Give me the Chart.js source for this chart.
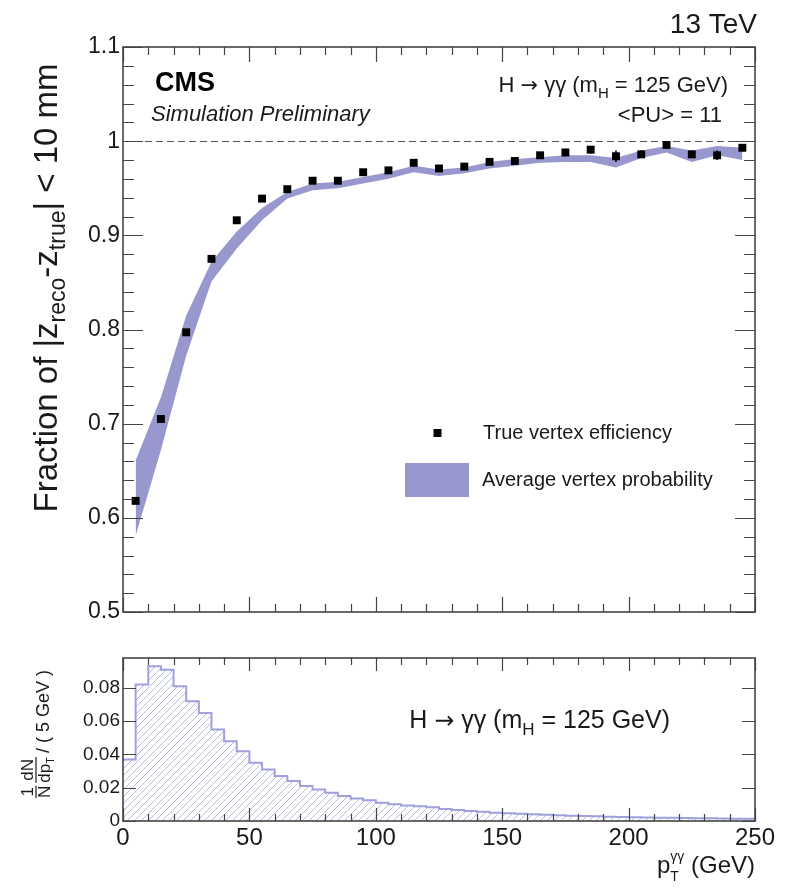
<!DOCTYPE html>
<html>
<head>
<meta charset="utf-8">
<title>Vertex efficiency vs pT</title>
<script src="https://cdn.jsdelivr.net/npm/chart.js@4.4.1/dist/chart.umd.min.js"></script>
<style>
  html, body { margin: 0; padding: 0; background: #fff; }
  #wrap { position: relative; width: 785px; height: 888px; overflow: hidden; }
  #wrap canvas { position: absolute; left: 0; }
  #effChart { top: 0; }
  #histChart { top: 640px; }
</style>
</head>
<body>
<div id="wrap">
  <canvas id="effChart" width="785" height="640" style="width:785px;height:640px"></canvas>
  <canvas id="histChart" width="785" height="248" style="width:785px;height:248px"></canvas>
</div>
<script>
// pT bin centres (GeV) of the efficiency plot
const ptCenters = [5, 15, 25, 35, 45, 55, 65, 75, 85, 95, 105, 115, 125,
                   135, 145, 155, 165, 175, 185, 195, 205, 215, 225, 235, 245];
// true vertex efficiency and its error
const trueEff = [0.618, 0.705, 0.797, 0.875, 0.916, 0.939, 0.949, 0.958, 0.958, 0.967, 0.969, 0.977, 0.971,
                 0.973, 0.978, 0.979, 0.985, 0.988, 0.991, 0.984, 0.986, 0.996, 0.986, 0.985, 0.993];
const effErr = [0.003, 0.003, 0.003, 0.003, 0.002, 0.002, 0.002, 0.002, 0.002, 0.002, 0.002, 0.002, 0.002,
                0.002, 0.003, 0.003, 0.003, 0.004, 0.004, 0.006, 0.004, 0.003, 0.004, 0.005, 0.004];
// average vertex probability band
const probHigh = [0.661, 0.728, 0.815, 0.872, 0.904, 0.929, 0.946, 0.955, 0.957, 0.962, 0.967, 0.974, 0.970,
                  0.972, 0.978, 0.981, 0.983, 0.985, 0.985, 0.982, 0.990, 0.995, 0.990, 0.995, 0.993];
const probLow = [0.581, 0.672, 0.772, 0.851, 0.886, 0.916, 0.939, 0.948, 0.950, 0.955, 0.960, 0.967, 0.963,
                 0.966, 0.971, 0.974, 0.977, 0.978, 0.978, 0.972, 0.982, 0.988, 0.978, 0.985, 0.980];

// pT spectrum, 5 GeV bins
const histEdges = [0, 5, 10, 15, 20, 25, 30, 35, 40, 45, 50, 55, 60, 65, 70, 75, 80, 85, 90, 95,
                   100, 105, 110, 115, 120, 125, 130, 135, 140, 145, 150, 155, 160, 165, 170, 175, 180, 185, 190, 195,
                   200, 205, 210, 215, 220, 225, 230, 235, 240, 245, 250];
const histVals = [0.037, 0.082, 0.093, 0.091, 0.081, 0.072, 0.065, 0.055, 0.048, 0.042,
                  0.035, 0.031, 0.027, 0.024, 0.021, 0.019, 0.017, 0.015, 0.0135, 0.0125,
                  0.011, 0.010, 0.0093, 0.0088, 0.0082, 0.0072, 0.0066, 0.0060, 0.0055, 0.0050,
                  0.0046, 0.0043, 0.0040, 0.0037, 0.0034, 0.0032, 0.0030, 0.0028, 0.0026, 0.0024,
                  0.0023, 0.0021, 0.0020, 0.0019, 0.0018, 0.0017, 0.0016, 0.0015, 0.0014, 0.0013];

// tick labels
const effYTicks = [0.5, 0.6, 0.7, 0.8, 0.9, 1.0, 1.1];
const histYTicks = [0, 0.02, 0.04, 0.06, 0.08];
const ptTicks = [0, 50, 100, 150, 200, 250];

const FONT = '"Liberation Sans", Arial, Helvetica, sans-serif';
const ARROW_FONT = '"DejaVu Sans", sans-serif';
const TEXT = '#1a1a1a';
const AXIS = '#444';
const BAND = 'rgb(153, 152, 206)';
const HIST_LINE = 'rgb(160, 160, 222)';
const HIST_HATCH = 'rgb(185, 185, 230)';

Chart.defaults.font.family = FONT;
Chart.defaults.color = TEXT;

function f(size, style) { return (style || '') + ' ' + size + 'px ' + FONT; }
function fa(size) { return size + 'px ' + ARROW_FONT; }

function richWidth(ctx, parts) {
  let w = 0;
  for (const p of parts) { ctx.font = p.font; w += ctx.measureText(p.text).width; }
  return w;
}
function drawRich(ctx, parts, x, y) {
  for (const p of parts) {
    ctx.font = p.font;
    ctx.fillText(p.text, x, y + (p.dy || 0));
    x += ctx.measureText(p.text).width;
  }
}

// "H -> yy (m_H = 125 GeV)" pieces
function procParts(size, sub, dy) {
  return [
    {text: 'H ', font: f(size)},
    {text: '\u2192', font: fa(size * 0.95)},
    {text: ' \u03b3\u03b3 (m', font: f(size)},
    {text: 'H', font: f(sub), dy: dy},
    {text: ' = 125 GeV)', font: f(size)}
  ];
}

function steps(min, max, step) {
  const out = [];
  const n = Math.round((max - min) / step);
  for (let i = 0; i <= n; i++) out.push(min + i * step);
  return out;
}

// frame with inward ticks on all four sides
function drawFrame(chart, xt, yt) {
  const {ctx, chartArea: a, scales: {x, y}} = chart;
  ctx.save();
  ctx.strokeStyle = AXIS;
  ctx.lineWidth = 1.2;
  ctx.beginPath();
  for (const [vals, len] of [[xt.minor, xt.minorLen], [xt.major, xt.majorLen]]) {
    for (const v of vals) {
      const px = Math.round(x.getPixelForValue(v)) + 0.5;
      ctx.moveTo(px, a.bottom); ctx.lineTo(px, a.bottom - len);
      ctx.moveTo(px, a.top); ctx.lineTo(px, a.top + len);
    }
  }
  for (const [vals, len] of [[yt.minor, yt.minorLen], [yt.major, yt.majorLen]]) {
    for (const v of vals) {
      const py = Math.round(y.getPixelForValue(v)) + 0.5;
      ctx.moveTo(a.left, py); ctx.lineTo(a.left + len, py);
      ctx.moveTo(a.right, py); ctx.lineTo(a.right - len, py);
    }
  }
  ctx.stroke();
  ctx.lineWidth = 1.6;
  ctx.strokeRect(a.left, a.top, a.right - a.left, a.bottom - a.top);
  ctx.restore();
}

const effDecor = {
  id: 'effDecor',
  beforeDatasetsDraw(chart) {
    const {ctx, chartArea: a, scales: {y}} = chart;
    const y1 = Math.round(y.getPixelForValue(1)) + 0.5;
    ctx.save();
    ctx.strokeStyle = '#555';
    ctx.lineWidth = 1.2;
    ctx.setLineDash([7, 4]);
    ctx.beginPath(); ctx.moveTo(a.left, y1); ctx.lineTo(a.right, y1); ctx.stroke();
    ctx.restore();
  },
  afterDatasetsDraw(chart) {
    const {ctx, scales: {x, y}} = chart;
    ctx.save();
    ctx.strokeStyle = '#000';
    ctx.lineWidth = 1.6;
    ctx.beginPath();
    ptCenters.forEach((pt, i) => {
      const px = x.getPixelForValue(pt);
      ctx.moveTo(px, y.getPixelForValue(trueEff[i] + effErr[i]));
      ctx.lineTo(px, y.getPixelForValue(trueEff[i] - effErr[i]));
    });
    ctx.stroke();
    ctx.restore();
  },
  afterDraw(chart) {
    const ctx = chart.ctx;
    drawFrame(chart,
      {major: steps(0, 250, 50), minor: steps(0, 250, 10), majorLen: 15, minorLen: 8},
      {major: steps(0.5, 1.1, 0.1), minor: steps(0.5, 1.1, 0.02), majorLen: 20, minorLen: 11});

    ctx.save();
    ctx.fillStyle = TEXT;
    ctx.textBaseline = 'alphabetic';

    // energy label
    ctx.font = f(28);
    ctx.textAlign = 'right';
    ctx.fillText('13 TeV', 757, 33);

    ctx.textAlign = 'left';
    ctx.fillStyle = '#000';
    ctx.font = f(27, 'bold');
    ctx.fillText('CMS', 155, 91);
    ctx.fillStyle = TEXT;
    ctx.font = f(22, 'italic');
    ctx.fillText('Simulation Preliminary', 151, 121);

    const proc = procParts(22, 15, 6);
    drawRich(ctx, proc, 728 - richWidth(ctx, proc), 92);
    ctx.font = f(22);
    ctx.textAlign = 'right';
    ctx.fillText('<PU> = 11', 722, 122);
    ctx.textAlign = 'left';

    // legend
    ctx.fillStyle = '#000';
    ctx.fillRect(433.5, 429, 8, 8);
    ctx.fillStyle = BAND;
    ctx.fillRect(405, 463, 64, 34);
    ctx.fillStyle = TEXT;
    ctx.font = f(20);
    ctx.fillText('True vertex efficiency', 483, 439);
    ctx.fillText('Average vertex probability', 482, 486);

    // y title
    const title = [
      {text: 'Fraction of |z', font: f(33)},
      {text: 'reco', font: f(23), dy: 8},
      {text: '-z', font: f(33)},
      {text: 'true', font: f(23), dy: 8},
      {text: '| < 10 mm', font: f(33)}
    ];
    const tw = richWidth(ctx, title);
    ctx.translate(57, 288 + tw / 2);
    ctx.rotate(-Math.PI / 2);
    drawRich(ctx, title, 0, 0);
    ctx.restore();
  }
};

const histDecor = {
  id: 'histDecor',
  afterDraw(chart) {
    const ctx = chart.ctx;
    drawFrame(chart,
      {major: steps(0, 250, 50), minor: steps(0, 250, 10), majorLen: 13, minorLen: 7},
      {major: steps(0, 0.08, 0.02), minor: [], majorLen: 13, minorLen: 0});

    ctx.save();
    ctx.fillStyle = TEXT;
    ctx.textBaseline = 'alphabetic';

    const proc = procParts(25, 17, 7);
    drawRich(ctx, proc, 670 - richWidth(ctx, proc), 88);

    // x title: p_T^yy (GeV)
    ctx.font = f(24);
    const rest = ' (GeV)';
    const wRest = ctx.measureText(rest).width;
    ctx.font = f(14);
    const wSup = ctx.measureText('\u03b3\u03b3').width;
    ctx.font = f(24);
    const wP = ctx.measureText('p').width;
    let xs = 755 - wRest - wSup - wP;
    const base = 233;
    ctx.fillText('p', xs, base);
    xs += wP;
    ctx.font = f(14);
    ctx.fillText('\u03b3\u03b3', xs, base - 12);
    ctx.fillText('T', xs, base + 8);
    xs += wSup;
    ctx.font = f(24);
    ctx.fillText(rest, xs, base);

    // y title: 1/N dN/dpT / (5 GeV)
    ctx.translate(36, 158);
    ctx.rotate(-Math.PI / 2);
    ctx.strokeStyle = TEXT;
    ctx.lineWidth = 1.2;
    ctx.textAlign = 'center';
    ctx.font = f(17);
    const wN = ctx.measureText('N').width;
    ctx.fillText('1', wN / 2, -3);
    ctx.fillText('N', wN / 2, 14);
    ctx.beginPath(); ctx.moveTo(0, 0); ctx.lineTo(wN, 0); ctx.stroke();
    let u = wN + 3;
    const wDp = ctx.measureText('dp').width;
    ctx.font = f(11);
    const wT = ctx.measureText('T').width;
    const wFrac = wDp + wT;
    ctx.font = f(17);
    ctx.fillText('dN', u + wFrac / 2, -3);
    ctx.textAlign = 'left';
    ctx.fillText('dp', u, 14);
    ctx.font = f(11);
    ctx.fillText('T', u + wDp, 18);
    ctx.beginPath(); ctx.moveTo(u, 0); ctx.lineTo(u + wFrac, 0); ctx.stroke();
    u += wFrac + 4;
    ctx.font = f(18);
    ctx.fillText('/ ( 5 GeV )', u, 13);
    ctx.restore();
  }
};

function makeHatch() {
  const c = document.createElement('canvas');
  c.width = 7; c.height = 7;
  const g = c.getContext('2d');
  g.strokeStyle = HIST_HATCH;
  g.lineWidth = 1;
  g.beginPath();
  g.moveTo(-1, 8); g.lineTo(8, -1);
  g.moveTo(-1, 1); g.lineTo(1, -1);
  g.moveTo(6, 8); g.lineTo(8, 6);
  g.stroke();
  return g.createPattern(c, 'repeat');
}

document.addEventListener('DOMContentLoaded', function() {
  const effCtx = document.getElementById('effChart').getContext('2d');
  new Chart(effCtx, {
    type: 'line',
    data: {
      datasets: [{
        label: 'band high',
        data: ptCenters.map((pt, i) => ({x: pt, y: probHigh[i]})),
        borderWidth: 0,
        pointRadius: 0,
        fill: false,
        order: 2
      }, {
        label: 'Average vertex probability',
        data: ptCenters.map((pt, i) => ({x: pt, y: probLow[i]})),
        borderWidth: 0,
        pointRadius: 0,
        backgroundColor: BAND,
        fill: '-1',
        order: 2
      }, {
        label: 'True vertex efficiency',
        data: ptCenters.map((pt, i) => ({x: pt, y: trueEff[i]})),
        showLine: false,
        pointStyle: 'rect',
        pointRadius: 5.6,
        pointBorderWidth: 0,
        pointBackgroundColor: '#000',
        order: 1
      }]
    },
    options: {
      responsive: false,
      animation: false,
      devicePixelRatio: 1,
      layout: { padding: { left: 0, top: 47, right: 30, bottom: 28 } },
      plugins: { legend: { display: false }, tooltip: { enabled: false } },
      scales: {
        x: { type: 'linear', min: 0, max: 250, display: false },
        y: {
          type: 'linear', min: 0.5, max: 1.1,
          grid: { display: false, drawTicks: false },
          border: { display: false },
          afterBuildTicks: s => { s.ticks = effYTicks.map(v => ({value: v})); },
          afterFit: s => { s.width = 123; },
          ticks: {
            font: { size: 23 }, color: TEXT, padding: 3,
            callback: v => String(+v.toFixed(2))
          }
        }
      }
    },
    plugins: [effDecor]
  });

  const histCtx = document.getElementById('histChart').getContext('2d');
  const histData = histVals.map((v, i) => ({x: histEdges[i], y: v}));
  histData.push({x: histEdges[histEdges.length - 1], y: histVals[histVals.length - 1]});
  new Chart(histCtx, {
    type: 'line',
    data: {
      datasets: [{
        label: 'pT spectrum',
        data: histData,
        stepped: true,
        borderColor: HIST_LINE,
        borderWidth: 2,
        pointRadius: 0,
        backgroundColor: makeHatch(),
        fill: 'origin'
      }]
    },
    options: {
      responsive: false,
      animation: false,
      devicePixelRatio: 1,
      layout: { padding: { left: 0, top: 18, right: 30, bottom: 37 } },
      plugins: { legend: { display: false }, tooltip: { enabled: false } },
      scales: {
        x: {
          type: 'linear', min: 0, max: 250,
          grid: { display: false, drawTicks: false },
          border: { display: false },
          afterBuildTicks: s => { s.ticks = ptTicks.map(v => ({value: v})); },
          afterFit: s => { s.height = 30; },
          ticks: { font: { size: 24 }, color: TEXT, padding: 3, maxRotation: 0 }
        },
        y: {
          type: 'linear', min: 0, max: 0.098,
          grid: { display: false, drawTicks: false },
          border: { display: false },
          afterBuildTicks: s => { s.ticks = histYTicks.map(v => ({value: v})); },
          afterFit: s => { s.width = 123; },
          ticks: {
            font: { size: 19 }, color: TEXT, padding: 3,
            callback: v => (v === 0 ? '0' : v.toFixed(2))
          }
        }
      }
    },
    plugins: [histDecor]
  });
});
</script>
</body>
</html>
